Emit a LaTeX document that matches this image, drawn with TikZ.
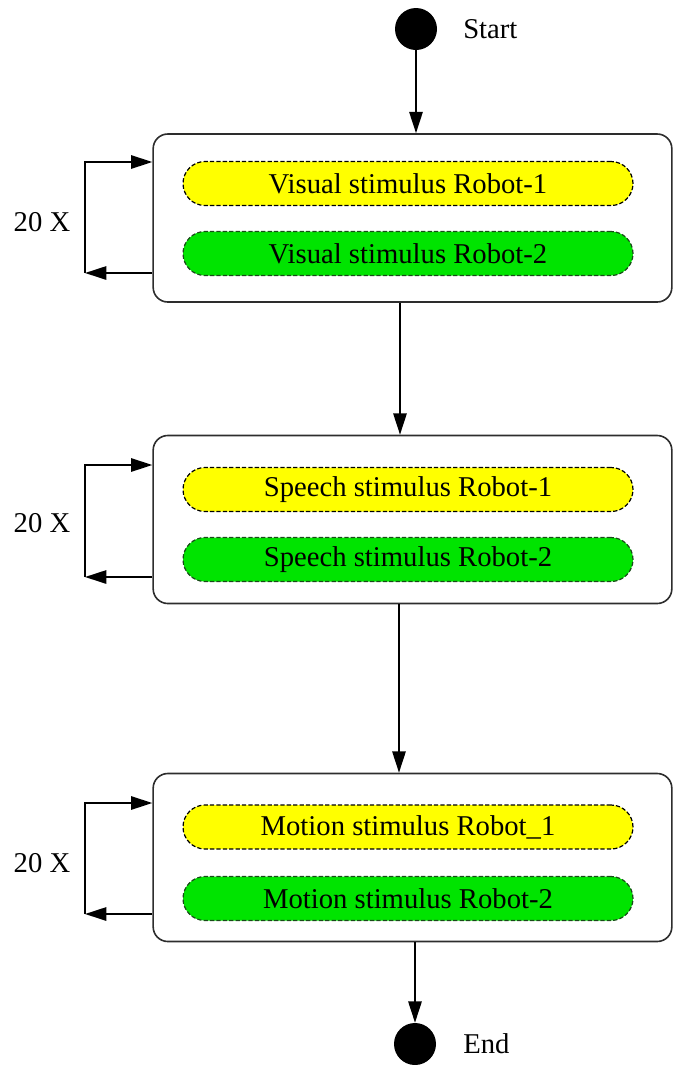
\documentclass[tikz,border=0pt]{standalone}
\usepackage{fontspec}
\setmainfont{Liberation Serif}
\usetikzlibrary{arrows.meta}
\definecolor{pillyellow}{RGB}{255,255,0}
\definecolor{pillgreen}{RGB}{0,228,0}
\definecolor{greenedge}{RGB}{25,75,25}
\definecolor{boxedge}{RGB}{45,45,45}
\begin{document}
\begin{tikzpicture}[x=0.75pt,y=-0.75pt,
  font=\fontsize{21.5}{25}\selectfont,
  stage/.style={draw=boxedge, line width=1.2pt, rounded corners=11pt,
    minimum width=389pt, minimum height=126pt, inner sep=0pt},
  pill/.style={draw, dash pattern=on 3.2pt off 1.6pt, line width=0.9pt,
    rounded corners=16.5pt, minimum width=337.5pt, minimum height=33pt, inner sep=0pt},
  yellowpill/.style={pill, fill=pillyellow},
  greenpill/.style={pill, draw=greenedge, fill=pillgreen},
  terminal/.style={circle, fill=black, minimum size=31.5pt, inner sep=0pt},
  arr/.style={line width=1.4pt, -{Triangle[length=16pt,width=10pt]}},
  lbl/.style={inner sep=0pt}]
\useasboundingbox (0,0) rectangle (672,1065);

% start and end markers
\node[terminal] (start) at (416,29) {};
\node[lbl, anchor=west] (startlbl) at (463,29) {Start};
\node[terminal] (end) at (415,1044) {};
\node[lbl, anchor=west] (endlbl) at (463,1044) {End};

% the three stimulus blocks
\node[stage] (b1) at (412.5,218) {};
\node[yellowpill] (v1) at (408,183.5) {Visual stimulus Robot-1};
\node[greenpill]  (v2) at (408,253.5) {Visual stimulus Robot-2};

\node[stage] (b2) at (412.5,519.5) {};
\node[yellowpill] (s1) at (408,489.5) {Speech stimulus Robot-1};
\node[greenpill]  (s2) at (408,559.5) {Speech stimulus Robot-2};

\node[stage] (b3) at (412.5,857.5) {};
\node[yellowpill] (m1) at (408,827) {Motion stimulus Robot\_1};
\node[greenpill]  (m2) at (408,898.5) {Motion stimulus Robot-2};

% flow between blocks
\coordinate (a12) at (400,0);
\coordinate (a23) at (399,0);
\draw[arr] (start) -- (start |- b1.north);
\draw[arr] (b1.south -| a12) -- (b2.north -| a12);
\draw[arr] (b2.south -| a23) -- (b3.north -| a23);
\draw[arr] (b3.south -| end) -- (end.north);

% repetition loops
\foreach \b/\t/\u/\m in {b1/162/273/222, b2/465/577/523, b3/803/914/863} {
  \coordinate (\b lt) at (85,\t);
  \coordinate (\b lb) at (85,\u);
  \draw[arr] (\b lb) -- (\b lt) -- (\b lt -| \b.west);
  \draw[arr] (\b lb -| \b.west) -- (\b lb);
  \node[lbl] (\b rep) at (42,\m) {20 X};
}
\end{tikzpicture}
\end{document}
